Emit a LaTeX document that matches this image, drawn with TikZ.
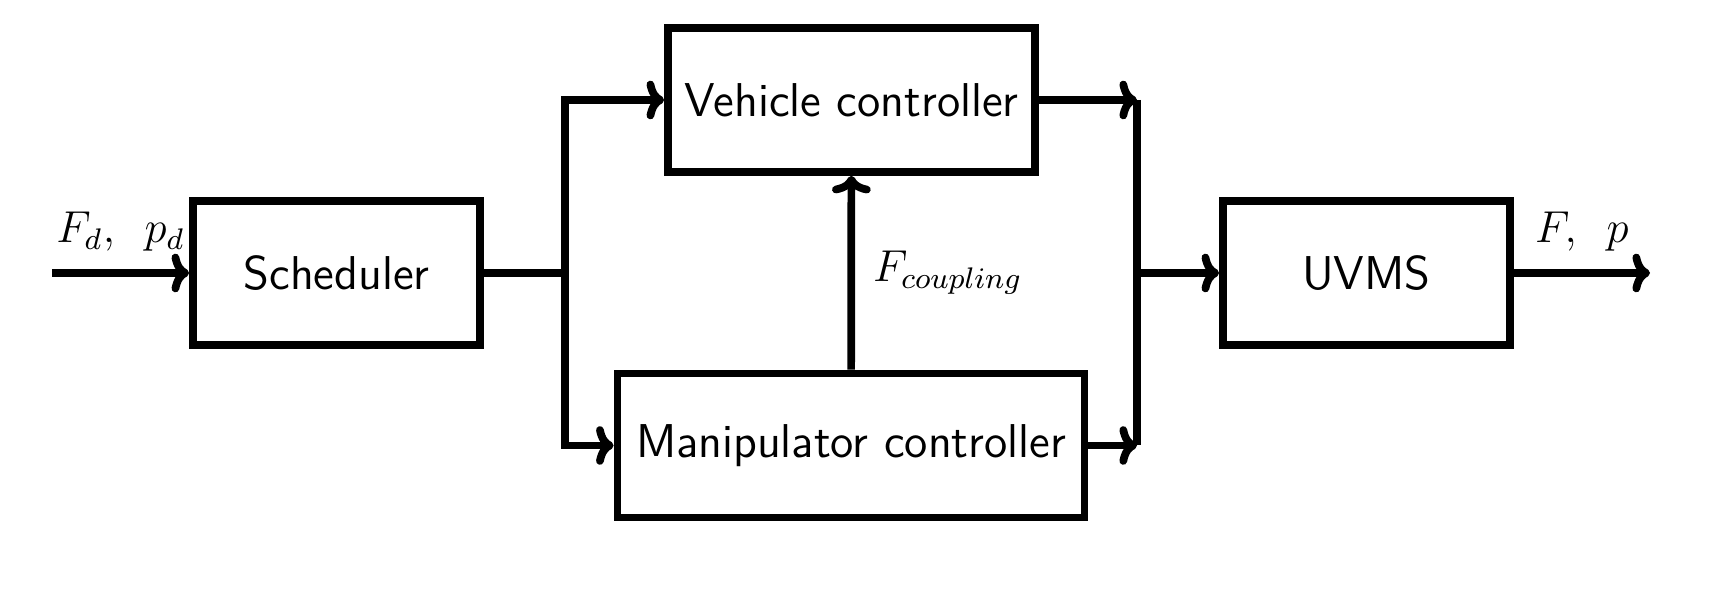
\documentclass[tikz,border=0pt]{standalone}
\usetikzlibrary{arrows.meta}
\tikzset{
  block/.style={draw,line width=2.2pt,minimum width=#1,minimum height=1.44cm,
    inner sep=0pt,font=\fontsize{13.5}{16}\sffamily},
  block/.default=2.87cm,
  lbl/.style={font=\fontsize{12}{14}\selectfont,scale=1.06,transform shape}
}
\begin{document}
\begin{tikzpicture}[>={To[length=5pt,width=11pt,round]},line width=2.2pt]
\useasboundingbox (0,0) rectangle (17.15,5.9);
\path
(3.365,3.17)  node[block]        (sched) {Scheduler}
(8.515,4.90)  node[block=3.67cm] (veh)   {Vehicle controller}
(8.51,1.445)  node[block=4.67cm] (manip) {Manipulator controller}
(13.665,3.17) node[block]        (uvms)  {UVMS};

\coordinate (in)  at (0.52,3.17);
\coordinate (out) at (16.5,3.17);
\coordinate (jl)  at (5.65,3.17);
\coordinate (jr)  at (11.37,3.17);
\coordinate (jr1) at (jr |- veh);
\coordinate (jr2) at (jr |- manip);

\draw[->] (in)--(sched) node[midway,above,lbl,yshift=0.5mm]{$F_d,\enspace p_d$};
\draw (sched)--(jl);
\draw[->] (jl) |- (veh);
\draw[->] (jl) |- (manip);
\draw[->] (manip)--(veh) node[midway,right,lbl,xshift=0.5mm]{$F_{coupling}$};
\draw[->] (veh)--(jr1);
\draw[->] (manip)--(jr2);
\draw (jr1)--(jr2);
\draw[->] (jr)--(uvms);
\draw[->] (uvms)--(out) node[midway,above,lbl,yshift=0.5mm]{$F,\enspace p$};
\end{tikzpicture}
\end{document}
